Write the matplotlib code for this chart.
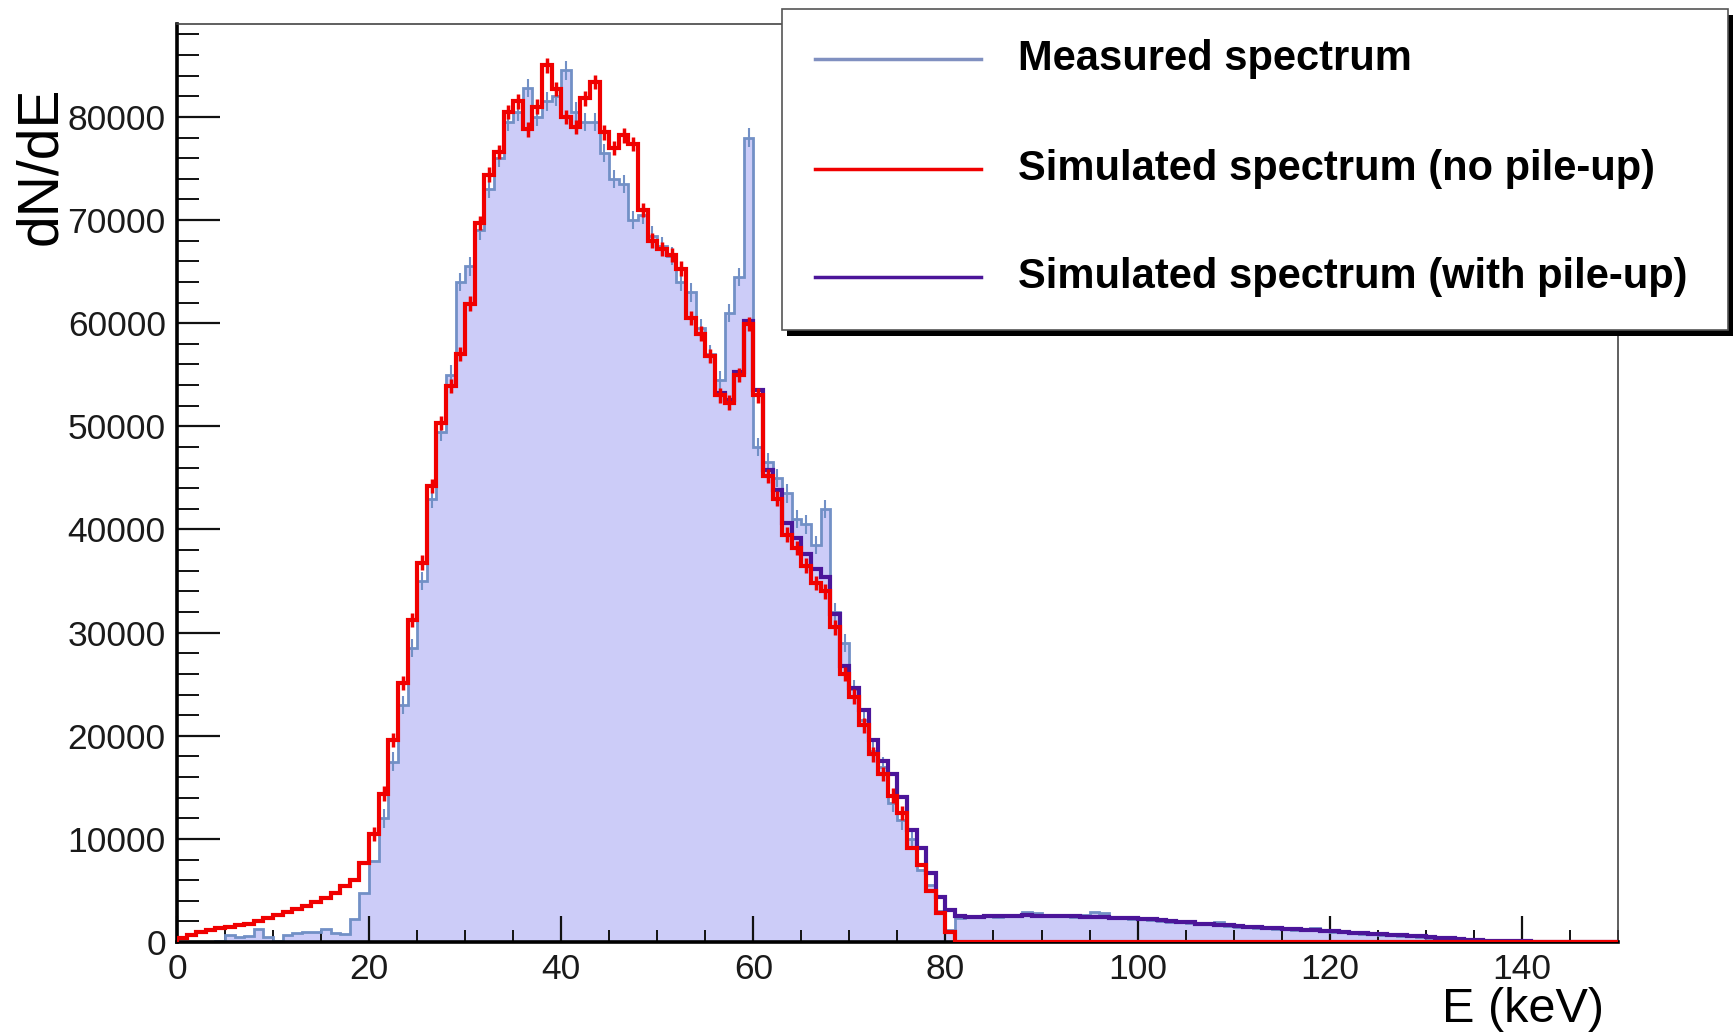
import numpy as np
import matplotlib
matplotlib.use('Agg')
import matplotlib.pyplot as plt
from matplotlib.ticker import MultipleLocator
from matplotlib.patches import Rectangle
from matplotlib.lines import Line2D

plt.rcParams['font.family'] = ['Liberation Sans', 'DejaVu Sans']

# 1 keV bins from 0 to 150 keV
bin_edges = np.arange(0, 151)

# measured spectrum, counts per bin (E = 0..149 keV)
measured = [
    0, 0, 0, 0, 100, 700, 500, 600, 1300, 500,
    100, 700, 900, 1000, 950, 1300, 900, 800, 2200, 4800,
    7900, 12000, 17500, 23000, 28500, 35000, 43000, 49500, 55000, 64000,
    65500, 69000, 73000, 76000, 79500, 80500, 82800, 80000, 81500, 82000,
    84500, 80500, 79500, 79500, 76500, 74000, 73500, 70000, 70500, 68500,
    67500, 66500, 64000, 63000, 59500, 57000, 54500, 61000, 64500, 78000,
    48000, 46500, 45000, 43500, 41000, 40500, 38500, 42000, 32000, 29000,
    24500, 21500, 18500, 17000, 13500, 11800, 10000, 7000, 5500, 3000,
    1200, 2300, 2400, 2400, 2500, 2450, 2500, 2600, 2900, 2800,
    2600, 2550, 2500, 2450, 2600, 2900, 2800, 2350, 2300, 2250,
    2200, 2150, 2050, 1950, 1900, 1850, 1750, 1800, 1950, 1600,
    1500, 1450, 1400, 1350, 1300, 1250, 1200, 1250, 1350, 1050,
    1000, 950, 850, 800, 750, 700, 650, 600, 550, 500,
    420, 380, 320, 280, 230, 180, 150, 110, 90, 70,
    50, 40, 30, 20, 10, 0, 0, 0, 0, 0,
]

# simulated spectrum without pile-up (E = 0..149 keV)
sim_nopileup = [
    400, 700, 950, 1150, 1350, 1500, 1650, 1800, 2050, 2300,
    2600, 2900, 3200, 3500, 3900, 4300, 4800, 5400, 6000, 7700,
    10500, 14400, 19600, 25100, 31200, 36800, 44200, 50300, 53900, 57000,
    61900, 69700, 74400, 76600, 80500, 81500, 78800, 81000, 85000, 82700,
    80000, 79000, 81800, 83400, 78500, 77000, 78200, 77400, 71000, 68000,
    67200, 66600, 65300, 60500, 59000, 56800, 53000, 52300, 55000, 59900,
    53000, 45200, 43000, 39500, 38200, 36500, 34800, 34000, 30500, 26000,
    23800, 21000, 18200, 16300, 14200, 12500, 9100, 7500, 5000, 2800,
    1000,
] + [0] * 69

# simulated spectrum with pile-up, from 56 keV on (below it lies under the red one)
pileup_start = 56
sim_pileup = [
    53200, 52600, 55300, 60200,
    53500, 45800, 43800, 40600, 39200, 37600, 36200, 35400, 31800, 26800,
    24600, 22500, 19600, 17600, 16300, 14100, 10900, 9100, 6700, 4400,
    3100, 2500, 2450, 2450, 2500, 2500, 2550, 2550, 2600, 2550,
    2550, 2500, 2550, 2500, 2450, 2450, 2400, 2350, 2300, 2300,
    2250, 2200, 2100, 2000, 1950, 1900, 1800, 1750, 1700, 1650,
    1550, 1500, 1450, 1400, 1350, 1300, 1250, 1200, 1150, 1100,
    1050, 1000, 900, 850, 800, 750, 700, 650, 600, 550,
    450, 400, 350, 300, 250, 200, 150, 120, 100, 80,
    60, 50, 40, 30, 20, 10, 0, 0, 0, 0,
]

x_ticks = [0, 20, 40, 60, 80, 100, 120, 140]
y_ticks = [0, 10000, 20000, 30000, 40000, 50000, 60000, 70000, 80000]

c_fill = '#ccccf8'
c_meas = '#7290c6'
c_red = '#f00000'
c_purple = '#4b1599'

measured = np.array(measured)
sim_nopileup = np.array(sim_nopileup)
sim_pileup = np.array(sim_pileup)
centers = bin_edges[:-1] + 0.5
pileup_edges = bin_edges[pileup_start:]

fig = plt.figure(figsize=(17.35, 10.33), dpi=100)
ax = fig.add_axes([0.102, 0.088, 0.8305, 0.8887])

ax.stairs(measured, bin_edges, fill=True, color=c_fill, lw=0, zorder=1)
ax.stairs(measured, bin_edges, color=c_meas, lw=2, zorder=2)
m = measured >= 10000
ax.errorbar(centers[m], measured[m], yerr=900, fmt='none', ecolor=c_meas,
            elinewidth=1.5, capsize=0, zorder=2)
ax.stairs(sim_pileup, pileup_edges, baseline=None, color=c_purple, lw=3, zorder=3)
ax.stairs(sim_nopileup, bin_edges, color=c_red, lw=3, zorder=4)
r = sim_nopileup >= 10000
ax.errorbar(centers[r], sim_nopileup[r], yerr=700, fmt='none', ecolor=c_red,
            elinewidth=2.5, capsize=0, zorder=5)

ax.set_xlim(0, 150)
ax.set_ylim(0, 89000)
ax.set_xticks(x_ticks)
ax.set_yticks(y_ticks)
ax.xaxis.set_minor_locator(MultipleLocator(5))
ax.yaxis.set_minor_locator(MultipleLocator(2000))
ax.tick_params(axis='both', which='both', direction='in', colors='#111111',
               labelcolor='#1a1a1a', labelsize=25.5, top=False, right=False)
ax.tick_params(axis='y', which='major', length=31, width=1.6, pad=8)
ax.tick_params(axis='y', which='minor', length=16, width=1.4)
ax.tick_params(axis='x', which='major', length=19, width=1.6, pad=8)
ax.tick_params(axis='x', which='minor', length=9, width=1.4)

for s in ['left', 'bottom']:
    ax.spines[s].set_linewidth(2.6)
    ax.spines[s].set_color('#000000')
for s in ['top', 'right']:
    ax.spines[s].set_linewidth(1.2)
    ax.spines[s].set_color('#444444')

fig.text(0.0236, 0.916, 'dN/dE', rotation=90, ha='center', va='top', fontsize=41)
fig.text(0.9245, 0.0232, 'E (keV)', ha='right', va='center', fontsize=35)

# legend box with shadow, ROOT style
bx0, by0, bx1, by1 = 0.4507, 0.6805, 0.996, 0.9913
fig.add_artist(Rectangle((bx0 + 0.0029, by0 - 0.0058), bx1 - bx0, by1 - by0,
                         transform=fig.transFigure, facecolor='black',
                         edgecolor='none', zorder=10))
fig.add_artist(Rectangle((bx0, by0), bx1 - bx0, by1 - by0,
                         transform=fig.transFigure, facecolor='white',
                         edgecolor='#555555', lw=1.2, zorder=11))
entries = [('Measured spectrum', '#8090c0', 0.9433),
           ('Simulated spectrum (no pile-up)', c_red, 0.8364),
           ('Simulated spectrum (with pile-up)', c_purple, 0.7322)]
for label, col, yy in entries:
    fig.add_artist(Line2D([0.4697, 0.5654], [yy, yy], transform=fig.transFigure,
                          color=col, lw=2.5, zorder=12))
    fig.text(0.5867, yy, label, ha='left', va='center', fontsize=30,
             fontweight='bold', zorder=12)

fig.savefig('out.png', dpi=100)
